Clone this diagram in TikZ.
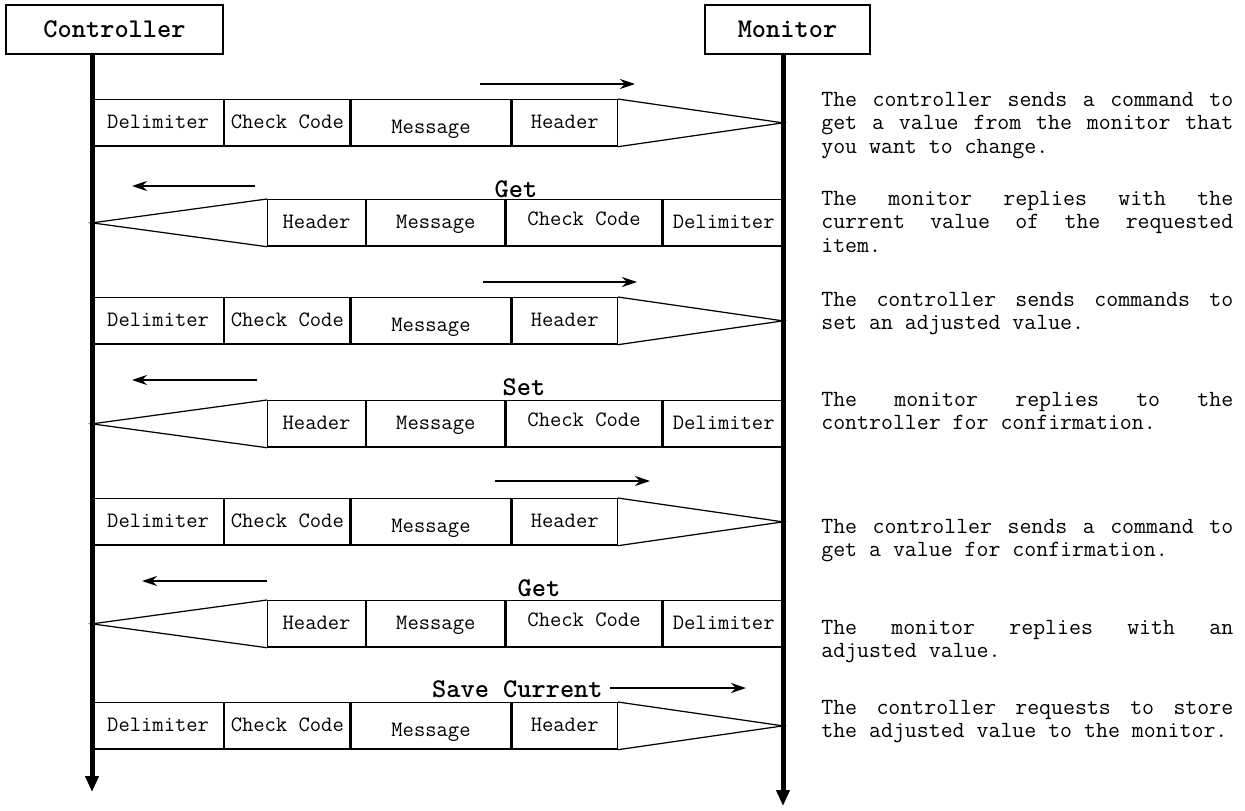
\documentclass[tikz,border=0pt]{standalone}
\usepackage{fontspec}
\usetikzlibrary{arrows.meta, positioning}
\newcommand{\descfont}{\ttfamily\fontsize{13.2}{13.3}\selectfont\fontdimen3\font=0.9em\fontdimen4\font=0.3em\tolerance=9999\hyphenpenalty=10000 }

\begin{document}
\begin{tikzpicture}[
		x=0.02cm, y=-0.02cm,
		texts/.style = {text=black},
		party/.style = {texts, draw, line width=0.6pt, minimum width=#1, minimum height=0.98cm, inner sep=0pt, font=\ttfamily\bfseries\fontsize{15.4}{17}\selectfont},
		lifeline/.style = {line width=0.1cm, -{Triangle[length=0.32cm, width=0.26cm]}},
		cell/.style = {texts, draw, line width=0.7pt, minimum width=#1, minimum height=0.93cm, inner sep=0pt, text height=0.8em, text depth=0.12em, font=\ttfamily\fontsize{12.5}{14}\selectfont},
		tipline/.style = {line width=0.7pt},
		dirarrow/.style = {line width=0.8pt, -{Stealth[length=0.3cm, width=0.2cm]}},
		cmdlabel/.style = {texts, inner sep=0pt, font=\ttfamily\bfseries\fontsize{15.4}{17}\selectfont},
		desc/.style = {texts, anchor=north west, inner sep=0pt, text width=8.24cm, align=justify, font=\descfont},
		node distance = 0pt
		]
		\useasboundingbox (0,0) rectangle (1245,811);
		
		% the two parties and their time lines
		\node [party=4.34cm] (ctrl) at (114.5,29.5) {Controller};
		\node [party=3.3cm] (mon) at (787.5,29.5) {Monitor};
		\coordinate (ctrlx) at (92,792);
		\coordinate (monx) at (783,806);
		
		% controller to monitor
		\foreach \r/\y in {a/99, c/297, e/498, g/702} {
			\node [cell=2.62cm, anchor=north west] (dlm\r) at (92,\y) {Delimiter};
			\node [cell=2.5cm, right=of dlm\r] (chk\r) {Check Code};
			\node [cell=3.2cm, right=of chk\r] (msg\r) {\raisebox{-0.09cm}{Message}};
			\node [cell=2.1cm, right=of msg\r] (hdr\r) {Header};
			\draw[tipline] (hdr\r.north east) -- (hdr\r.east -| monx) -- (hdr\r.south east);
		}
		
		% monitor to controller
		\foreach \r/\y in {b/199, d/400, f/600} {
			\node [cell=1.96cm, anchor=north west] (hdr\r) at (267,\y) {Header};
			\node [cell=2.76cm, right=of hdr\r] (msg\r) {Message};
			\node [cell=3.12cm, right=of msg\r] (chk\r) {\raisebox{0.06cm}{Check Code}};
			\node [cell=2.42cm, right=of chk\r] (dlm\r) {Delimiter};
			\draw[tipline] (hdr\r.north west) -- (hdr\r.west -| ctrlx) -- (hdr\r.south west);
		}
		
		% direction arrows
		\foreach \r/\xs/\xe/\ya in {a/480/635/84, c/483/637/282, e/495/650/481, b/255/132/186, d/257/132/380, f/267/142/581} {
			\coordinate (from\r) at (\xs,\ya);
			\coordinate (to\r) at (\xe,\ya);
			\draw[dirarrow] (from\r) -- (to\r);
		}
		
		\node [cmdlabel, anchor=base] (getb) at (516,197) {Get};
		\node [cmdlabel, anchor=base] (setd) at (524,395) {Set};
		\node [cmdlabel, anchor=base] (getf) at (539,596) {Get};
		\node [cmdlabel, anchor=base east] (saveg) at (603,697) {Save Current};
		\coordinate (fromg) at (610,688);
		\coordinate (tog) at (746,688);
		\draw[dirarrow] (fromg) -- (tog);
		
		\draw[lifeline] (ctrl.south -| ctrlx) -- (ctrlx);
		\draw[lifeline] (mon.south -| monx) -- (monx);
		
		% explanations
		\node [desc] (desca) at (821,92) {The controller sends a command to\linebreak get a value from the monitor that\linebreak you want to change.};
		\node [desc] (descb) at (821,191) {The monitor replies with the\linebreak current value of the requested\linebreak item.};
		\node [desc] (descc) at (821,292) {The controller sends commands to\linebreak set an adjusted value.};
		\node [desc] (descd) at (821,392) {The monitor replies to the\linebreak controller for confirmation.};
		\node [desc] (desce) at (821,519) {The controller sends a command to\linebreak get a value for confirmation.};
		\node [desc] (descf) at (821,620) {The monitor replies with an\linebreak adjusted value.};
		\node [desc] (descg) at (821,700) {The controller requests to store\linebreak the adjusted value to the monitor.};
		
		\end{tikzpicture}
\end{document}
